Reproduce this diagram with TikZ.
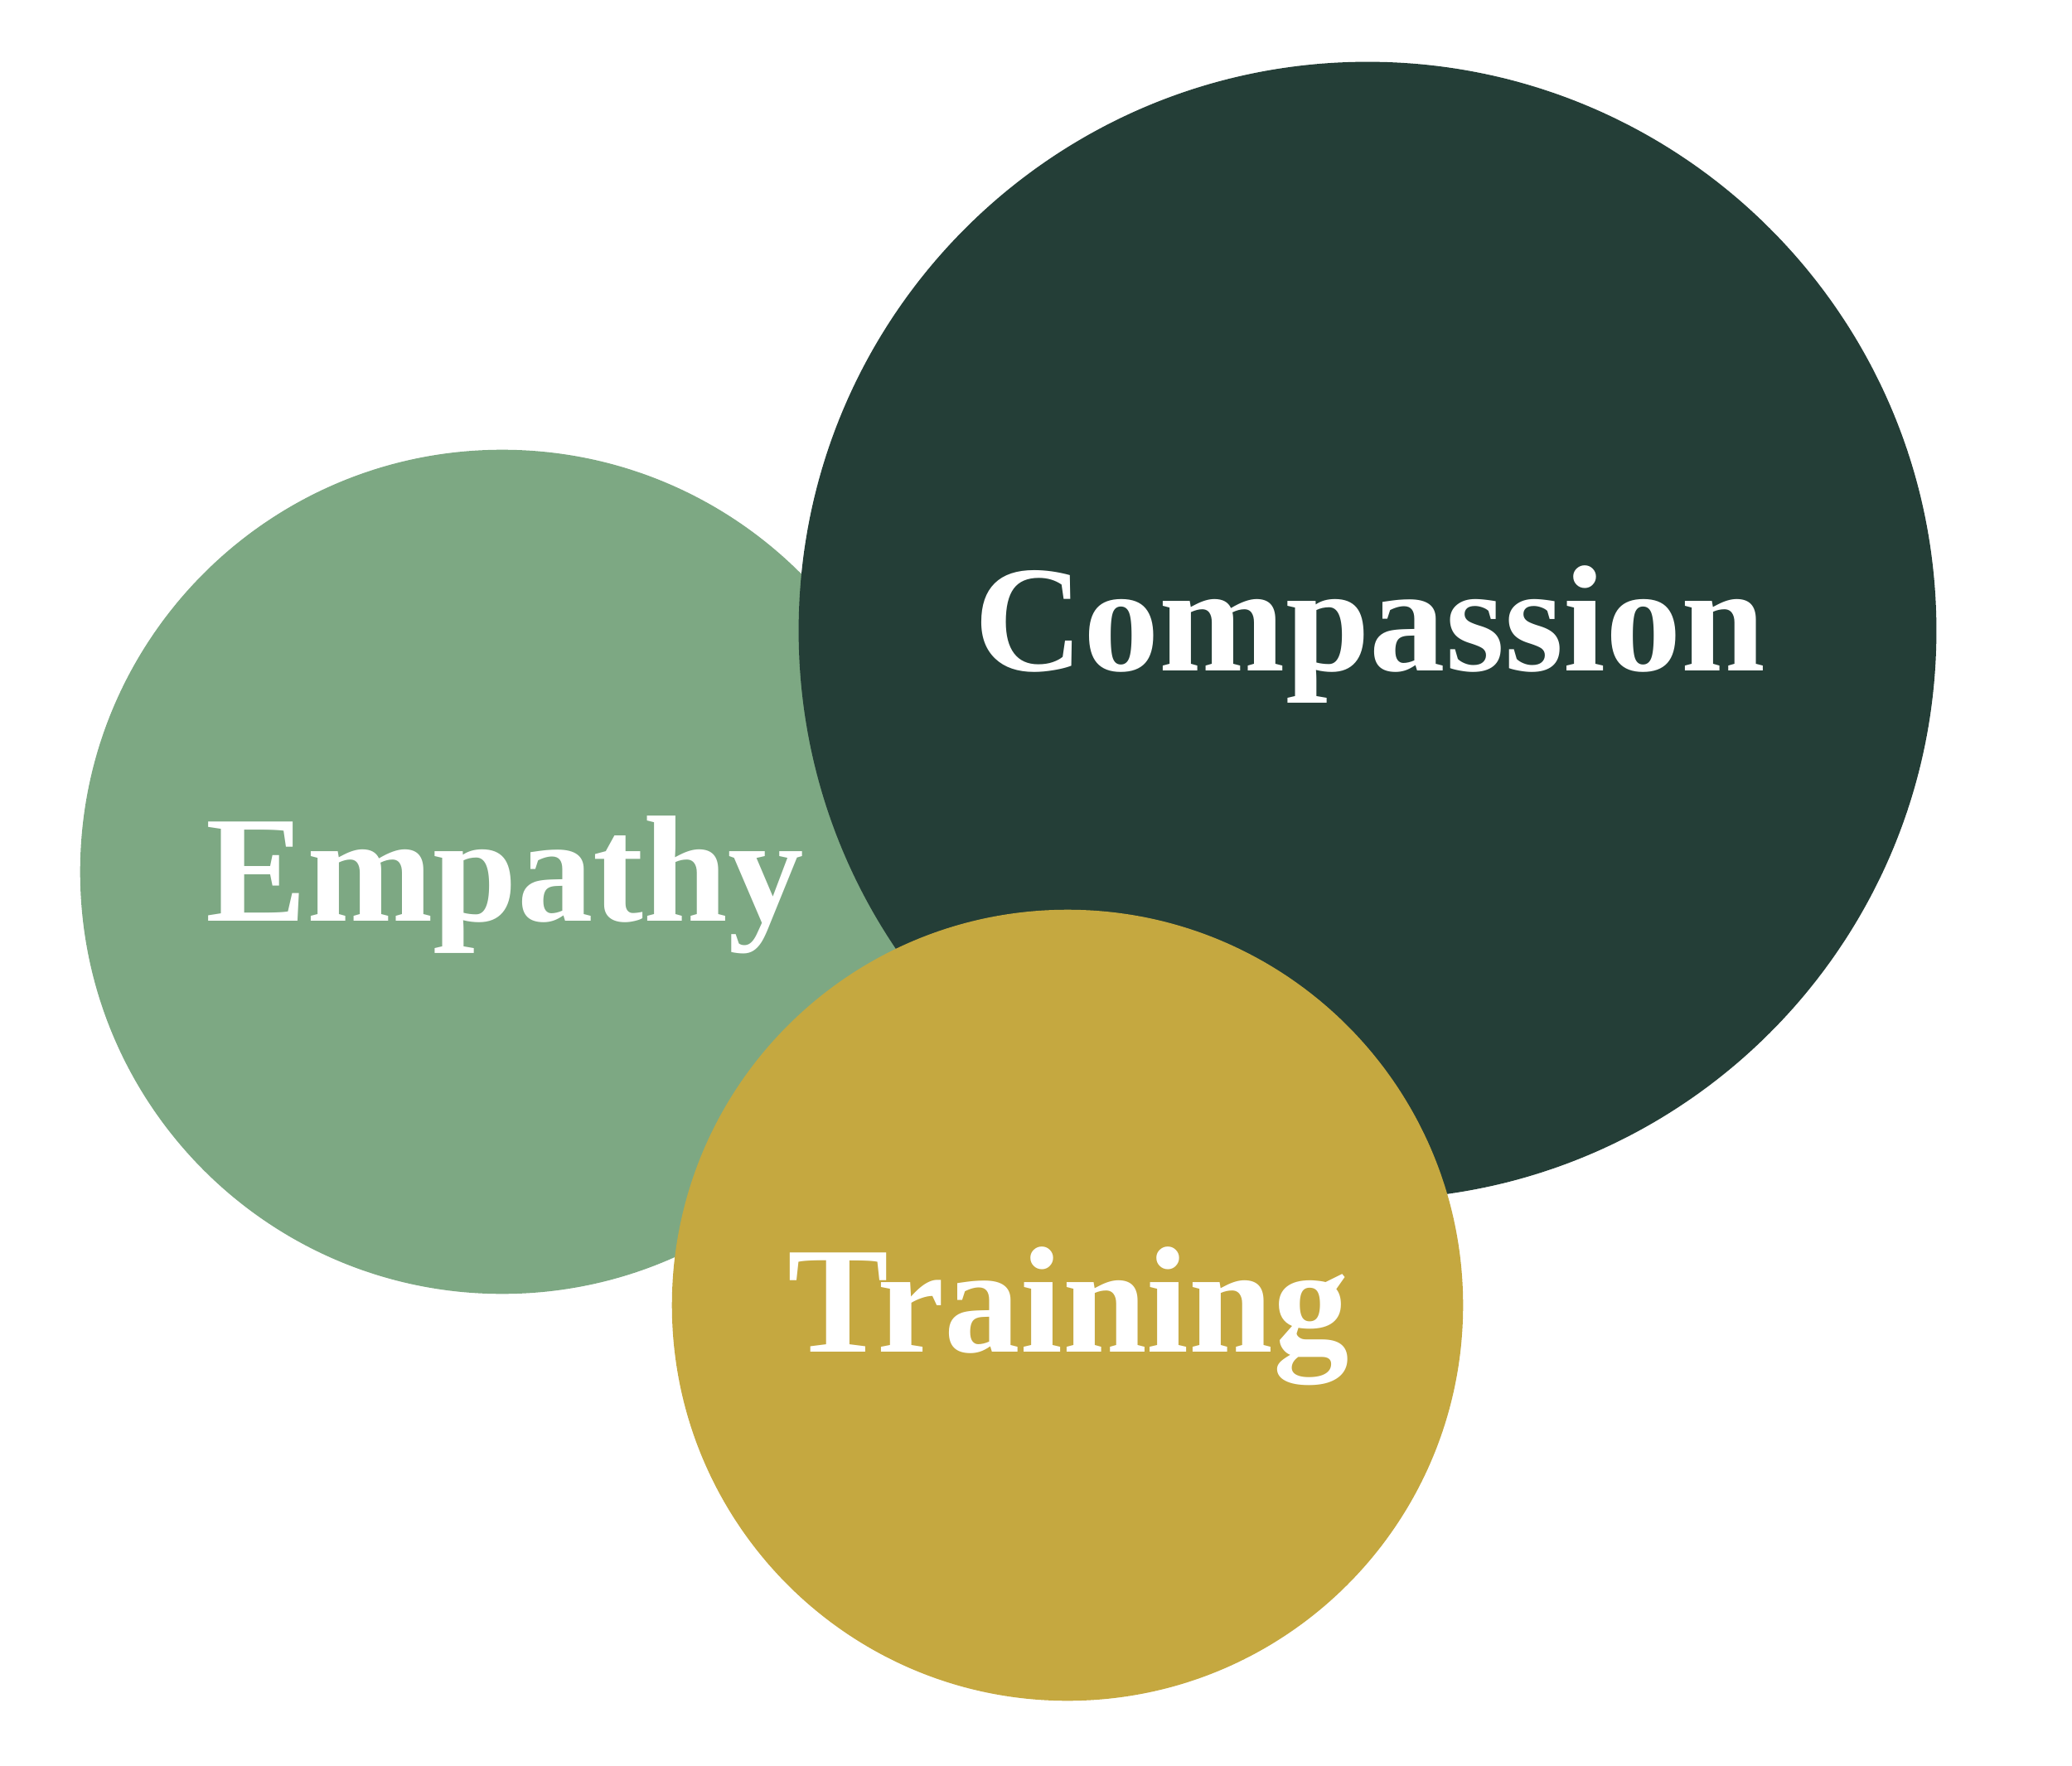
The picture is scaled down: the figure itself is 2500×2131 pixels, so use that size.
\documentclass[tikz,border=0pt]{standalone}
\usepackage{fontspec}
\setmainfont{Liberation Serif}
\definecolor{empgreen}{HTML}{7DA883}
\definecolor{compdark}{HTML}{243E37}
\definecolor{traingold}{HTML}{C5A840}
\begin{document}
\begin{tikzpicture}[x=0.01cm,y=-0.01cm,
  blob/.style={circle,inner sep=0pt,draw=none},
  lbl/.style={text=white,anchor=base,inner sep=0pt,font=\fontsize{52}{60}\selectfont\bfseries}]
\useasboundingbox[fill=white] (0,0) rectangle (2500,2131);
\node[blob,fill=empgreen,minimum size=10.18cm] (emp) at (606,1052) {};
\node[blob,fill=compdark,minimum size=13.72cm] (comp) at (1650,761) {};
\node[blob,fill=traingold,minimum size=9.54cm] (train) at (1288,1575) {};
\node[lbl] (tcomp) at (1653,810) {Compassion};
\node[lbl] (temp) at (609,1111) {Empathy};
\node[lbl] (ttrain) at (1289,1631) {Training};
\end{tikzpicture}
\end{document}
